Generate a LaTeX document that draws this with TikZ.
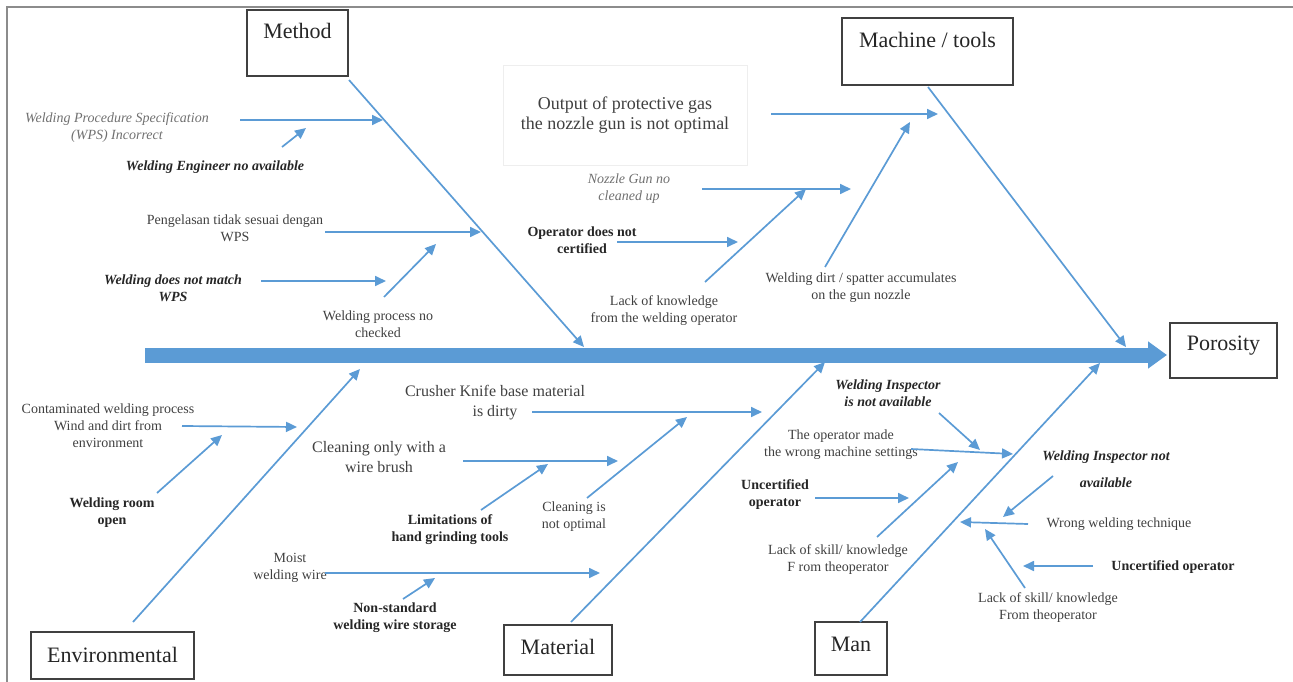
\documentclass[tikz,border=0pt]{standalone}
\usepackage{fontspec}
\setmainfont{Liberation Serif}
\usetikzlibrary{arrows.meta}
\definecolor{bblue}{HTML}{5B9BD5}
\definecolor{txt}{HTML}{404040}
\definecolor{txtdark}{HTML}{262626}
\definecolor{txtlight}{HTML}{707070}
\definecolor{boxgray}{HTML}{404040}
\definecolor{framegray}{HTML}{8C8C8C}
\definecolor{faintgray}{HTML}{EEEEEE}
\tikzset{
  cause/.style={font=\fontsize{14}{17}\selectfont, text=txt, align=center, inner sep=0pt},
  bcause/.style={cause, font=\fontsize{14}{17}\selectfont\bfseries, text=txtdark},
  bicause/.style={cause, font=\fontsize{14}{17}\selectfont\bfseries\itshape, text=txtdark},
  icause/.style={cause, font=\fontsize{14}{17}\selectfont\itshape, text=txtlight},
  bigcause/.style={cause, font=\fontsize{16}{20}\selectfont},
  catbox/.style={draw=boxgray, line width=1.8pt, fill=white, inner sep=0pt},
  cattext/.style={font=\fontsize{22}{26}\selectfont, text=txtdark, inner sep=0pt},
  bone/.style={draw=bblue, line width=1.7pt, -{Triangle[length=11pt,width=10pt]}},
  subarrow/.style={draw=bblue, line width=1.7pt, -{Triangle[length=11pt,width=10pt]}},
  spine/.style={draw=bblue, line width=15pt, -{Triangle[length=19pt,width=26pt]}},
  frameline/.style={draw=framegray, line width=2pt}
}
\begin{document}
\begin{tikzpicture}[x=1pt,y=-1pt]
\useasboundingbox (0,0) rectangle (1293,682);
% frame
\coordinate (fa) at (7,682);
\coordinate (fb) at (7,7);
\coordinate (fc) at (1293,7);
\draw[frameline] (fa) -- (fb) -- (fc);

% category boxes
\node[catbox, minimum width=101pt, minimum height=66pt] (method) at (297.5,43) {};
\node[cattext] (methodtxt) at (297.5,31) {Method};
\node[catbox, minimum width=171pt, minimum height=67pt] (machine) at (927.5,51.5) {};
\node[cattext] (machinetxt) at (927.5,40) {Machine / tools};
\node[catbox, minimum width=163pt, minimum height=47pt] (env) at (112.5,655.5) {};
\node[cattext] (envtxt) at (112.5,655) {Environmental};
\node[catbox, minimum width=108pt, minimum height=50pt] (material) at (558,650) {};
\node[cattext] (materialtxt) at (558,647) {Material};
\node[catbox, minimum width=72pt, minimum height=53pt] (man) at (851,648.5) {};
\node[cattext] (mantxt) at (851,644) {Man};
\node[catbox, minimum width=107pt, minimum height=55pt] (poro) at (1223.5,350.5) {};
\node[cattext] (porotxt) at (1223.5,346) {Porosity};

% spine
\coordinate (spinestart) at (145,355);
\coordinate (spineend) at (1167,355);
\draw[spine] (spinestart) -- (spineend);

% main bones
\coordinate (mb0) at (349,80);   \coordinate (mb1) at (584,347);
\coordinate (kb0) at (928,87);   \coordinate (kb1) at (1126,347);
\coordinate (eb0) at (133,622);  \coordinate (eb1) at (360,369);
\coordinate (tb0) at (571,622);  \coordinate (tb1) at (825,362);
\coordinate (nb0) at (860,622);  \coordinate (nb1) at (1100,363);
\draw[bone] (mb0) -- (mb1);
\draw[bone] (kb0) -- (kb1);
\draw[bone] (eb0) -- (eb1);
\draw[bone] (tb0) -- (tb1);
\draw[bone] (nb0) -- (nb1);

% Method causes
\node[icause] (m1) at (117,128) {Welding Procedure Specification\\(WPS) Incorrect};
\node[bicause] (m2) at (215,167) {Welding Engineer no available};
\node[cause] (m3) at (235,228) {Pengelasan tidak sesuai dengan\\WPS};
\node[bicause] (m4) at (173,288) {Welding does not match\\WPS};
\node[cause] (m5) at (378,324) {Welding process no\\checked};
\coordinate (a1s) at (240,120); \coordinate (a1e) at (383,120);
\coordinate (a2s) at (282,147); \coordinate (a2e) at (306,128);
\coordinate (a3s) at (325,232); \coordinate (a3e) at (481,232);
\coordinate (a4s) at (261,281); \coordinate (a4e) at (386,281);
\coordinate (a5s) at (384,297); \coordinate (a5e) at (436,244);
\draw[subarrow] (a1s) -- (a1e);
\draw[subarrow] (a2s) -- (a2e);
\draw[subarrow] (a3s) -- (a3e);
\draw[subarrow] (a4s) -- (a4e);
\draw[subarrow] (a5s) -- (a5e);

% Machine causes
\node[cause, font=\fontsize{18}{20}\selectfont, draw=faintgray, line width=0.8pt, minimum width=244pt, minimum height=100pt] (k1) at (625,115) {Output of protective gas\\the nozzle gun is not optimal};
\node[icause] (k2) at (629,189) {Nozzle Gun no\\cleaned up};
\node[bcause] (k3) at (582,240) {Operator does not\\certified};
\node[cause] (k4) at (664,311) {Lack of knowledge\\from the welding operator};
\node[cause] (k5) at (861,288) {Welding dirt / spatter accumulates\\on the gun nozzle};
\coordinate (b1s) at (771,114); \coordinate (b1e) at (938,114);
\coordinate (b2s) at (702,189); \coordinate (b2e) at (851,189);
\coordinate (b3s) at (617,242); \coordinate (b3e) at (738,242);
\coordinate (b4s) at (705,282); \coordinate (b4e) at (806,189);
\coordinate (b5s) at (825,267); \coordinate (b5e) at (910,122);
\draw[subarrow] (b1s) -- (b1e);
\draw[subarrow] (b2s) -- (b2e);
\draw[subarrow] (b3s) -- (b3e);
\draw[subarrow] (b4s) -- (b4e);
\draw[subarrow] (b5s) -- (b5e);

% Environmental causes
\node[cause] (e1) at (108,426) {Contaminated welding process\\Wind and dirt from\\environment};
\node[bcause] (e2) at (112,513) {Welding room\\open};
\coordinate (c1s) at (182,426); \coordinate (c1e) at (297,427);
\coordinate (c2s) at (157,493); \coordinate (c2e) at (222,435);
\draw[subarrow] (c1s) -- (c1e);
\draw[subarrow] (c2s) -- (c2e);

% Material causes
\node[bigcause] (t1) at (495,403) {Crusher Knife base material\\is dirty};
\node[bigcause] (t2) at (379,457) {Cleaning only with a\\wire brush};
\node[bcause] (t3) at (450,530) {Limitations of\\hand grinding tools};
\node[cause] (t4) at (574,517) {Cleaning is\\not optimal};
\node[cause] (t5) at (290,568) {Moist\\welding wire};
\node[bcause] (t6) at (395,618) {Non-standard\\welding wire storage};
\coordinate (d1s) at (532,412); \coordinate (d1e) at (762,412);
\coordinate (d2s) at (463,461); \coordinate (d2e) at (618,461);
\coordinate (d3s) at (481,510); \coordinate (d3e) at (548,464);
\coordinate (d4s) at (587,498); \coordinate (d4e) at (687,417);
\coordinate (d5s) at (325,573); \coordinate (d5e) at (600,573);
\coordinate (d6s) at (403,599); \coordinate (d6e) at (435,578);
\draw[subarrow] (d1s) -- (d1e);
\draw[subarrow] (d2s) -- (d2e);
\draw[subarrow] (d3s) -- (d3e);
\draw[subarrow] (d4s) -- (d4e);
\draw[subarrow] (d5s) -- (d5e);
\draw[subarrow] (d6s) -- (d6e);

% Man causes
\node[bicause] (n1) at (888,393) {Welding Inspector\\is not available};
\node[cause] (n2) at (841,445) {The operator made\\the wrong machine settings};
\node[bcause] (n3) at (775,495) {Uncertified\\operator};
\node[cause] (n4) at (838,560) {Lack of skill/ knowledge\\F rom theoperator};
\node[bicause, font=\fontsize{14}{27}\selectfont\bfseries\itshape] (n5) at (1106,469) {Welding Inspector not\\available};
\node[cause] (n6) at (1119,524) {Wrong welding technique};
\node[bcause] (n7) at (1173,567) {Uncertified operator};
\node[cause] (n8) at (1048,608) {Lack of skill/ knowledge\\From theoperator};
\coordinate (f1s) at (939,413);  \coordinate (f1e) at (980,450);
\coordinate (f2s) at (911,449);  \coordinate (f2e) at (1013,454);
\coordinate (f3s) at (815,498);  \coordinate (f3e) at (909,498);
\coordinate (f4s) at (877,537);  \coordinate (f4e) at (958,462);
\coordinate (f5s) at (1053,476); \coordinate (f5e) at (1003,517);
\coordinate (f6s) at (1028,524); \coordinate (f6e) at (960,522);
\coordinate (f7s) at (1093,566); \coordinate (f7e) at (1023,566);
\coordinate (f8s) at (1025,588); \coordinate (f8e) at (985,529);
\draw[subarrow] (f1s) -- (f1e);
\draw[subarrow] (f2s) -- (f2e);
\draw[subarrow] (f3s) -- (f3e);
\draw[subarrow] (f4s) -- (f4e);
\draw[subarrow] (f5s) -- (f5e);
\draw[subarrow] (f6s) -- (f6e);
\draw[subarrow] (f7s) -- (f7e);
\draw[subarrow] (f8s) -- (f8e);
\end{tikzpicture}
\end{document}
